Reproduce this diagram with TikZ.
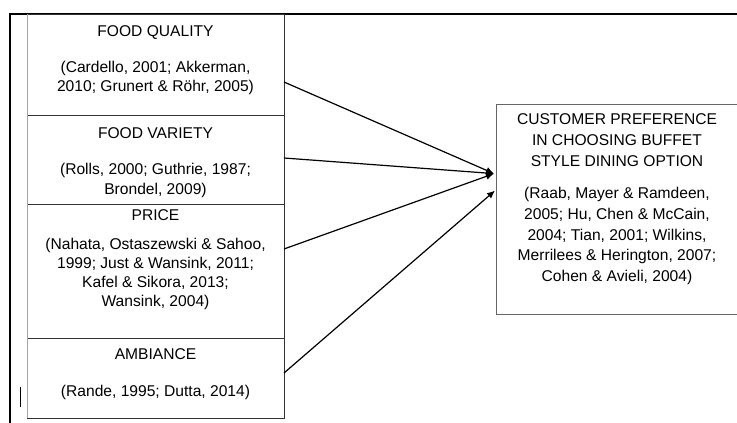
\documentclass[tikz,border=0pt]{standalone}
\usepackage{fontspec}
\setmainfont{Liberation Sans}
\usetikzlibrary{positioning,arrows.meta}

\begin{document}
\begin{tikzpicture}[x=1pt, y=-1pt,
  fbox/.style={draw=black!80, line width=0.8pt, minimum width=257pt, inner sep=0pt, outer sep=0pt},
  ftext/.style={align=center, anchor=base, font=\fontsize{15.6}{19.1}\selectfont, inner sep=0pt},
  link/.style={line width=1.2pt, -{Latex[length=8pt, width=7pt]}}]
  \clip (0,0) rectangle (737,423);
  \draw[line width=2pt] (10,423) -- (10,13.5) -- (737,13.5);
  \draw[line width=0.8pt] (20,387) -- (20,407);

  \node[fbox, minimum height=101pt, anchor=north west] (quality) at (27,14) {};
  \node[fbox, minimum height=89pt, below=0pt of quality] (variety) {};
  \node[fbox, minimum height=134pt, below=0pt of variety] (price) {};
  \node[fbox, minimum height=80pt, below=0pt of price] (ambiance) {};
  \draw[gray!70, line width=0.8pt] (quality.north west) -- (ambiance.south west);

  % base = baseline of the last line
  \node[ftext] (qualitytxt) at (155.5,91.3) {FOOD QUALITY\\[16.6pt](Cardello, 2001; Akkerman,\\2010; Grunert \& Röhr, 2005)};
  \node[ftext] (varietytxt) at (155.5,194) {FOOD VARIETY\\[17pt](Rolls, 2000; Guthrie, 1987;\\Brondel, 2009)};
  \node[ftext] (pricetxt) at (155.5,306.3) {PRICE\\[9.3pt](Nahata, Ostaszewski \& Sahoo,\\1999; Just \& Wansink, 2011;\\Kafel \& Sikora, 2013;\\Wansink, 2004)};
  \node[ftext] (ambiancetxt) at (155.5,396) {AMBIANCE\\[17.3pt](Rande, 1995; Dutta, 2014)};

  \node[draw=black!60, line width=1.2pt, minimum width=242pt, minimum height=210pt, inner sep=0pt, anchor=north west] (pref) at (496,104) {};
  \node[ftext, font=\fontsize{15.6}{20.6}\selectfont] (preftxt) at (617,281.3) {CUSTOMER PREFERENCE\\IN CHOOSING BUFFET\\STYLE DINING OPTION\\[12.2pt](Raab, Mayer \& Ramdeen,\\2005; Hu, Chen \& McCain,\\2004; Tian, 2001; Wilkins,\\Merrilees \& Herington, 2007;\\Cohen \& Avieli, 2004)};

  \draw[link] ([yshift=-17.5pt]quality.east) -- ([xshift=-2pt, yshift=36pt]pref.west);
  \draw[link] ([yshift=1.5pt]variety.east) -- ([xshift=-2pt, yshift=36pt]pref.west);
  \draw[link] ([yshift=22pt]price.east) -- ([xshift=-2pt, yshift=36pt]pref.west);
  \draw[link] ([yshift=5pt]ambiance.east) -- ([xshift=-1pt, yshift=19pt]pref.west);
\end{tikzpicture}
\end{document}
